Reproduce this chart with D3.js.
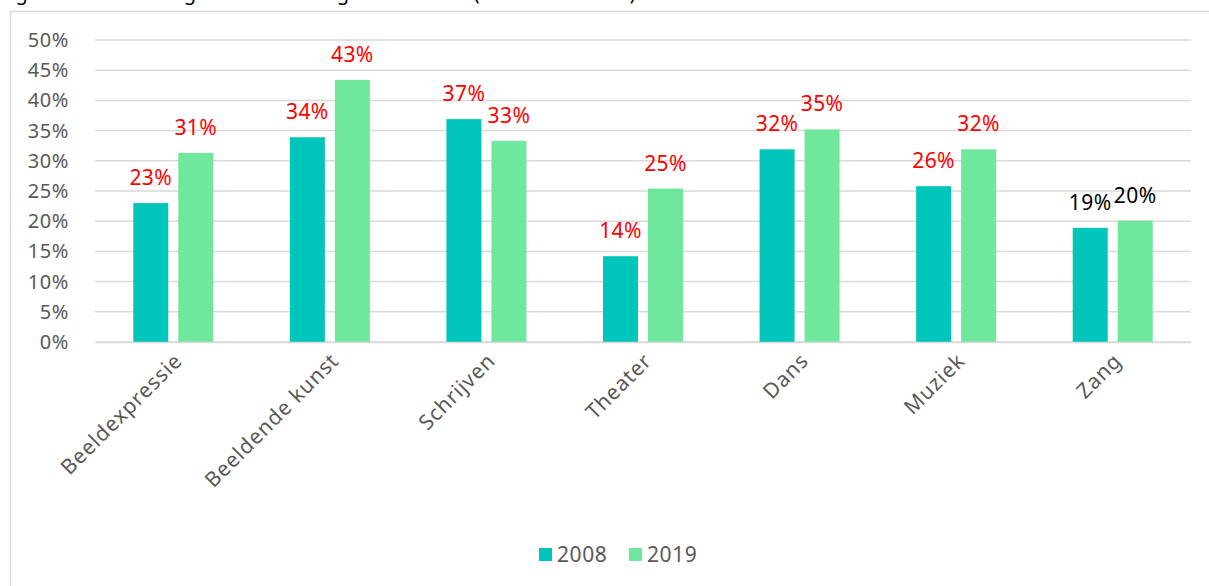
<!DOCTYPE html>
<html>
<head>
<meta charset="utf-8">
<script src="https://cdn.jsdelivr.net/npm/d3@7"></script>
<style>
  body { margin: 0; background: #fff; }
  svg { display: block; font-family: "Noto Sans", sans-serif; }
</style>
</head>
<body>
<div id="bar-chart"></div>
<script>
// podaci
const categories = ["Beeldexpressie", "Beeldende kunst", "Schrijven", "Theater", "Dans", "Muziek", "Zang"];
const years = ["2008", "2019"];
const values2008 = [23.0, 33.9, 36.9, 14.2, 31.9, 25.8, 18.9];
const values2019 = [31.3, 43.4, 33.3, 25.4, 35.2, 31.9, 20.1];
const labels2008 = ["23%", "34%", "37%", "14%", "32%", "26%", "19%"];
const labels2019 = ["31%", "43%", "33%", "25%", "35%", "32%", "20%"];
const yTicks = [0, 5, 10, 15, 20, 25, 30, 35, 40, 45, 50];

const colors = { "2008": "#00C5BA", "2019": "#6FE89E" };

const BarChart = () => {
    const width = 1209, height = 586;
    const margin = { top: 40, right: 18, bottom: 244, left: 95 };
    const boundsWidth = width - margin.left - margin.right;
    const boundsHeight = height - margin.top - margin.bottom;

    const svg = d3.select("#bar-chart")
        .append("svg")
        .attr("width", width)
        .attr("height", height);

    // naslov (odrezan na vrhu)
    svg.append("text")
        .attr("x", 0)
        .attr("y", 0)
        .attr("font-size", 20)
        .attr("fill", "#000")
        .text("Figuur 1: Beoefening van kunstzinnige activiteiten (naar kunstvorm)");

    // okvir
    svg.append("rect")
        .attr("x", 10.5)
        .attr("y", 11.5)
        .attr("width", 1220)
        .attr("height", 600)
        .attr("fill", "none")
        .attr("stroke", "#d9d9d9")
        .attr("stroke-width", 1.5);

    const bounds = svg.append("g")
        .attr("transform", `translate(${margin.left},${margin.top})`);

    const xScale = d3.scaleBand()
        .domain(categories)
        .range([0, boundsWidth]);

    const xInner = d3.scaleBand()
        .domain(years)
        .range([xScale.bandwidth() / 2 - 40, xScale.bandwidth() / 2 + 40])
        .paddingInner(10 / 45);

    const yScale = d3.scaleLinear()
        .domain([0, 50])
        .range([boundsHeight, 0]);

    // mreza
    bounds.append("g")
        .selectAll("line")
        .data(yTicks)
        .join("line")
        .attr("x1", 0)
        .attr("x2", boundsWidth)
        .attr("y1", d => yScale(d))
        .attr("y2", d => yScale(d))
        .attr("stroke", "#d9d9d9")
        .attr("stroke-width", 1.5);

    // y os
    const yAxis = bounds.append("g")
        .attr("transform", "translate(-23,0)")
        .call(d3.axisLeft(yScale).tickValues(yTicks).tickFormat(d => d + "%").tickSize(0));
    yAxis.select(".domain").remove();
    yAxis.selectAll("text")
        .attr("font-size", 20)
        .attr("letter-spacing", 0.6)
        .attr("font-family", "Noto Sans, sans-serif")
        .attr("fill", "#595959");

    // stupci
    const rows = categories.map((c, i) => ({
        cat: c,
        items: [
            { year: "2008", value: values2008[i], label: labels2008[i] },
            { year: "2019", value: values2019[i], label: labels2019[i] }
        ]
    }));

    const groups = bounds.selectAll(".cat")
        .data(rows)
        .join("g")
        .attr("class", "cat")
        .attr("transform", d => `translate(${xScale(d.cat)},0)`);

    groups.selectAll("rect")
        .data(d => d.items)
        .join("rect")
        .attr("x", d => xInner(d.year))
        .attr("width", xInner.bandwidth())
        .attr("y", d => yScale(d.value))
        .attr("height", d => boundsHeight - yScale(d.value))
        .attr("fill", d => colors[d.year]);

    groups.selectAll("text.val")
        .data(d => d.items.map(it => ({ ...it, cat: d.cat })))
        .join("text")
        .attr("class", "val")
        .attr("x", d => xInner(d.year) + xInner.bandwidth() / 2)
        .attr("y", d => yScale(d.value) - 18)
        .attr("text-anchor", "middle")
        .attr("font-size", 21)
        .attr("letter-spacing", 0.4)
        .attr("fill", d => d.cat === "Zang" ? "#000" : "#FF0000")
        .text(d => d.label);

    // x os
    const xAxis = bounds.append("g")
        .attr("transform", `translate(0,${boundsHeight})`)
        .call(d3.axisBottom(xScale).tickSize(0));
    xAxis.select(".domain")
        .attr("stroke", "#d9d9d9")
        .attr("stroke-width", 1.5);
    xAxis.selectAll("text")
        .attr("font-size", 21)
        .attr("letter-spacing", 0.9)
        .attr("font-family", "Noto Sans, sans-serif")
        .attr("fill", "#595959")
        .attr("text-anchor", "end")
        .attr("dy", 0)
        .attr("transform", "translate(8,18) rotate(-45)");

    // legenda
    const legend = svg.append("g")
        .attr("transform", "translate(539,548)");
    const items = legend.selectAll("g")
        .data(years)
        .join("g")
        .attr("transform", (d, i) => `translate(${i * 90},0)`);
    items.append("rect")
        .attr("width", 13)
        .attr("height", 13)
        .attr("fill", d => colors[d]);
    items.append("text")
        .attr("x", 18)
        .attr("y", 14)
        .attr("font-size", 21)
        .attr("letter-spacing", 0.6)
        .attr("fill", "#595959")
        .text(d => d);
};
BarChart();
</script>
</body>
</html>
